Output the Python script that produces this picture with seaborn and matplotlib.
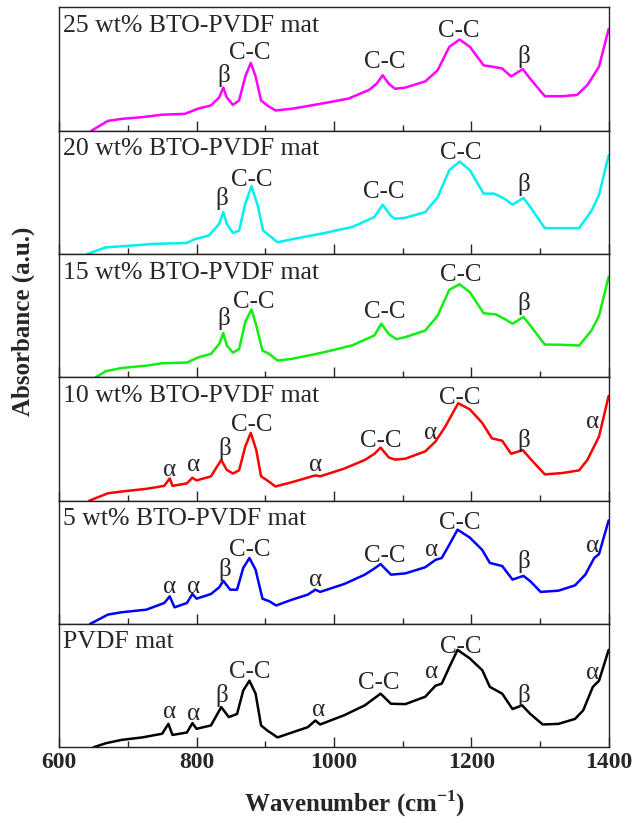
import numpy as np
import pandas as pd
import matplotlib
matplotlib.use("Agg")
import matplotlib.pyplot as plt
import seaborn as sns

sns.set_style("ticks")
plt.rcParams['font.family'] = ['Liberation Serif', 'DejaVu Serif']
plt.rcParams['mathtext.fontset'] = 'custom'
plt.rcParams['mathtext.rm'] = 'Liberation Serif:bold'
plt.rcParams['mathtext.bf'] = 'Liberation Serif:bold'


# DATA (absorbance normalised to panel height)

samples = ['25 wt% BTO-PVDF mat', '20 wt% BTO-PVDF mat', '15 wt% BTO-PVDF mat',
           '10 wt% BTO-PVDF mat', '5 wt% BTO-PVDF mat', 'PVDF mat']
colors = ['#ff00ff', '#00f0f0', '#11ee11', '#ff0000', '#0000ff', '#000000']

wn_25 = [647, 671, 691, 721, 750, 783, 803, 821, 833, 839, 844, 853, 862, 871, 879, 886, 894, 903,
         915, 939, 986, 1021, 1051, 1062, 1071, 1080, 1089, 1104, 1133, 1151, 1168, 1183, 1198,
         1218, 1230, 1245, 1258, 1275, 1286, 1307, 1333, 1354, 1369, 1386, 1400]
ab_25 = [0.0, 0.08, 0.096, 0.11, 0.13, 0.137, 0.18, 0.205, 0.27, 0.35, 0.27, 0.21, 0.245, 0.44, 0.55,
         0.44, 0.245, 0.205, 0.164, 0.178, 0.224, 0.26, 0.33, 0.38, 0.45, 0.38, 0.34, 0.35, 0.40, 0.49,
         0.68, 0.74, 0.68, 0.53, 0.52, 0.505, 0.44, 0.50, 0.42, 0.28, 0.28, 0.29, 0.37, 0.52, 0.825]

wn_20 = [641, 668, 691, 738, 786, 797, 818, 833, 839, 844, 853, 862, 871, 880, 889, 897, 906, 918,
         939, 986, 1027, 1059, 1071, 1083, 1089, 1104, 1133, 1151, 1168, 1183, 1198, 1218, 1233,
         1248, 1260, 1276, 1286, 1307, 1333, 1357, 1375, 1386, 1400]
ab_20 = [0.0, 0.054, 0.063, 0.082, 0.09, 0.12, 0.15, 0.245, 0.34, 0.245, 0.17, 0.19, 0.41, 0.55, 0.395,
         0.19, 0.15, 0.095, 0.12, 0.17, 0.22, 0.30, 0.40, 0.31, 0.286, 0.294, 0.34, 0.46, 0.68, 0.75,
         0.68, 0.49, 0.49, 0.45, 0.40, 0.455, 0.38, 0.21, 0.21, 0.21, 0.35, 0.48, 0.80]

wn_15 = [653, 668, 691, 727, 750, 786, 803, 821, 833, 839, 844, 853, 862, 871, 880, 887, 896, 906,
         918, 939, 986, 1027, 1059, 1069, 1080, 1091, 1104, 1133, 1151, 1168, 1183, 1198, 1218,
         1236, 1248, 1260, 1276, 1286, 1307, 1333, 1357, 1375, 1386, 1400]
ab_15 = [0.0, 0.05, 0.076, 0.095, 0.114, 0.12, 0.163, 0.19, 0.27, 0.36, 0.26, 0.20, 0.23, 0.45, 0.55,
         0.42, 0.217, 0.19, 0.136, 0.15, 0.204, 0.26, 0.34, 0.435, 0.35, 0.31, 0.326, 0.38, 0.50, 0.71,
         0.755, 0.69, 0.52, 0.51, 0.475, 0.435, 0.49, 0.42, 0.266, 0.264, 0.258, 0.38, 0.50, 0.815]

wn_10 = [644, 671, 691, 727, 753, 761, 765, 786, 794, 800, 821, 836, 844, 853, 862, 871, 879, 887,
         894, 903, 915, 939, 973, 980, 1015, 1045, 1059, 1068, 1080, 1089, 1104, 1133, 1148, 1162,
         1181, 1198, 1216, 1230, 1245, 1258, 1275, 1286, 1307, 1333, 1357, 1369, 1386, 1400]
ab_10 = [0.0, 0.06, 0.074, 0.096, 0.12, 0.18, 0.12, 0.14, 0.186, 0.164, 0.197, 0.33, 0.25, 0.22, 0.246,
         0.44, 0.55, 0.41, 0.197, 0.164, 0.115, 0.15, 0.205, 0.197, 0.26, 0.33, 0.38, 0.43, 0.35,
         0.333, 0.34, 0.40, 0.48, 0.60, 0.79, 0.74, 0.63, 0.505, 0.486, 0.38, 0.41, 0.34, 0.213,
         0.224, 0.246, 0.33, 0.52, 0.85]

wn_5 = [645, 671, 691, 727, 753, 761, 768, 786, 794, 800, 821, 833, 839, 849, 859, 868, 877, 886,
        896, 906, 916, 939, 962, 973, 980, 1015, 1045, 1059, 1068, 1083, 1104, 1133, 1148, 1157,
        1168, 1180, 1198, 1216, 1227, 1245, 1260, 1276, 1286, 1301, 1327, 1351, 1366, 1379, 1386, 1400]
ab_5 = [0.0, 0.076, 0.095, 0.116, 0.17, 0.224, 0.135, 0.17, 0.243, 0.205, 0.243, 0.297, 0.35, 0.278,
        0.278, 0.454, 0.535, 0.44, 0.205, 0.184, 0.15, 0.197, 0.238, 0.278, 0.26, 0.324, 0.40, 0.45,
        0.486, 0.40, 0.41, 0.46, 0.52, 0.535, 0.643, 0.765, 0.70, 0.60, 0.495, 0.47, 0.36, 0.39,
        0.346, 0.26, 0.27, 0.313, 0.40, 0.535, 0.567, 0.84]

wn_0 = [650, 668, 691, 721, 750, 759, 765, 786, 794, 800, 821, 836, 847, 859, 868, 877, 886, 894,
        903, 918, 939, 962, 973, 980, 1015, 1045, 1068, 1083, 1104, 1133, 1148, 1157, 1168, 1180,
        1198, 1216, 1227, 1245, 1260, 1274, 1286, 1304, 1327, 1351, 1363, 1377, 1386, 1400]
ab_0 = [0.0, 0.033, 0.06, 0.08, 0.11, 0.19, 0.10, 0.12, 0.196, 0.15, 0.177, 0.326, 0.245, 0.27, 0.46,
        0.54, 0.435, 0.177, 0.136, 0.08, 0.12, 0.163, 0.217, 0.185, 0.26, 0.34, 0.435, 0.353, 0.35,
        0.41, 0.50, 0.516, 0.65, 0.79, 0.72, 0.625, 0.49, 0.435, 0.31, 0.34, 0.27, 0.185, 0.19, 0.23,
        0.30, 0.49, 0.54, 0.79]

wavenumbers = [wn_25, wn_20, wn_15, wn_10, wn_5, wn_0]
absorbance = [ab_25, ab_20, ab_15, ab_10, ab_5, ab_0]

# peak labels: (text, wavenumber, height)
peaks_25 = [('β', 840, 0.45), ('C-C', 877, 0.63), ('C-C', 1074, 0.56), ('C-C', 1182, 0.81), ('β', 1276, 0.60)]
peaks_20 = [('β', 837, 0.45), ('C-C', 880, 0.60), ('C-C', 1073, 0.50), ('C-C', 1184, 0.82), ('β', 1277, 0.56)]
peaks_15 = [('β', 840, 0.475), ('C-C', 883, 0.61), ('C-C', 1074, 0.53), ('C-C', 1185, 0.83), ('β', 1276, 0.60)]
peaks_10 = [('α', 761, 0.25), ('α', 796, 0.29), ('β', 841, 0.42), ('C-C', 881, 0.61), ('α', 974, 0.29),
            ('C-C', 1068, 0.48), ('α', 1141, 0.55), ('C-C', 1183, 0.83), ('β', 1277, 0.49), ('α', 1377, 0.64)]
peaks_5 = [('α', 761, 0.30), ('α', 796, 0.30), ('β', 841, 0.44), ('C-C', 877, 0.60), ('α', 973, 0.36),
           ('C-C', 1074, 0.55), ('α', 1142, 0.60), ('C-C', 1183, 0.82), ('β', 1277, 0.51), ('α', 1377, 0.63)]
peaks_0 = [('α', 761, 0.285), ('α', 796, 0.27), ('β', 837, 0.42), ('C-C', 877, 0.61), ('α', 977, 0.30),
           ('C-C', 1065, 0.52), ('α', 1142, 0.61), ('C-C', 1185, 0.815), ('β', 1277, 0.42), ('α', 1377, 0.60)]
peaks = [peaks_25, peaks_20, peaks_15, peaks_10, peaks_5, peaks_0]


# PLOT

fig, axes = plt.subplots(6, 1, figsize=(6.36, 8.23), dpi=100, sharex=True)
fig.subplots_adjust(left=0.093, right=0.957, top=0.991, bottom=0.092, hspace=0)

for ax, name, col, wn, ab, pk in zip(axes, samples, colors, wavenumbers, absorbance, peaks):
    df = pd.DataFrame({'wn': wn, 'ab': ab})
    sns.lineplot(data=df, x='wn', y='ab', color=col, linewidth=1.8, ax=ax)
    ax.set_xlim(600, 1400)
    ax.set_ylim(0, 1)
    ax.set_yticks([])
    ax.set_xlabel('')
    ax.set_ylabel('')
    ax.set_xticks(np.arange(600, 1401, 200))
    ax.set_xticks(np.arange(700, 1400, 200), minor=True)
    ax.tick_params(axis='x', which='major', direction='in', length=7, width=1, labelsize=17)
    ax.tick_params(axis='x', which='minor', direction='in', length=4, width=1)
    for s in ax.spines.values():
        s.set_linewidth(1.0)
        s.set_color('#222222')
    ax.text(605, 0.85, name, fontsize=18.5, ha='left', va='center')
    for txt, x, y in pk:
        ax.text(x, y, txt, fontsize=18, ha='center', va='center')

for lab in axes[-1].get_xticklabels():
    lab.set_fontweight('bold')

fig.text(0.558, 0.024, 'Wavenumber (cm$^{-1}$)', fontsize=18, fontweight='bold',
         ha='center', va='center')
fig.text(0.036, 0.609, 'Absorbance (a.u.)', rotation=90, fontsize=18,
         fontweight='bold', ha='center', va='center')

fig.savefig('out.png', dpi=100)
